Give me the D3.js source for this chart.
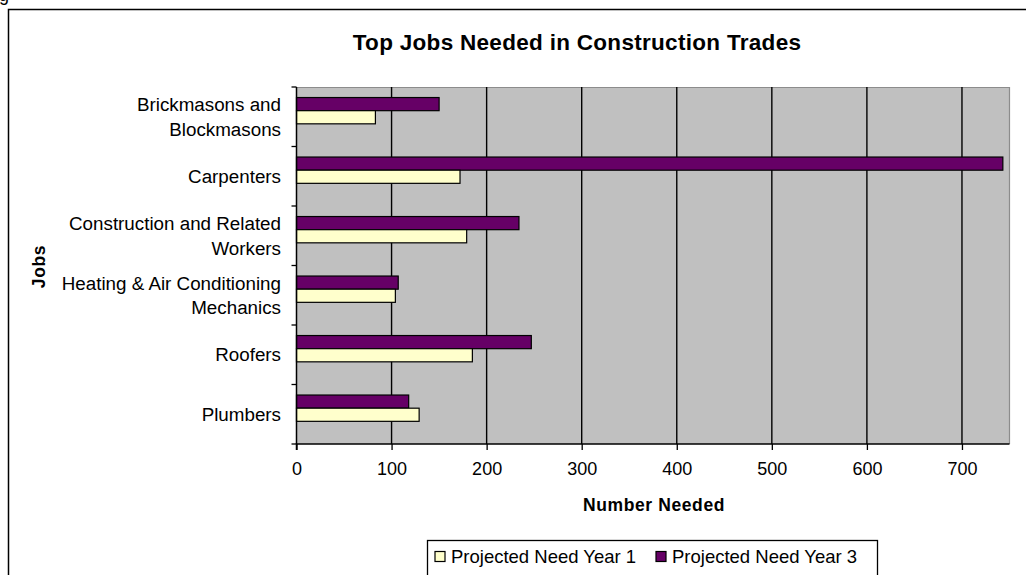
<!DOCTYPE html>
<html>
<head>
<meta charset="utf-8">
<script src="https://cdn.jsdelivr.net/npm/d3@7"></script>
<style>
  html, body { margin: 0; padding: 0; background: #fff; }
  svg { display: block; font-family: Arial, "Liberation Sans", sans-serif; }
</style>
</head>
<body>
<svg id="chart" width="1026" height="575"></svg>
<script>
// Job categories, top to bottom
const categories = [
  ["Brickmasons and", "Blockmasons"],
  ["Carpenters"],
  ["Construction and Related", "Workers"],
  ["Heating & Air Conditioning", "Mechanics"],
  ["Roofers"],
  ["Plumbers"]
];
const seriesNames = ["Projected Need Year 3", "Projected Need Year 1"];
const year3 = [150, 743, 234, 107, 247, 118];
const year1 = [83, 172, 179, 104, 185, 129];
const xTicks = [0, 100, 200, 300, 400, 500, 600, 700];
const legendOrder = ["Projected Need Year 1", "Projected Need Year 3"];

const colors = { "Projected Need Year 3": "#660066", "Projected Need Year 1": "#FFFFCC" };

const svg = d3.select("#chart");

// outer chart frame (continues past the right and bottom edges)
svg.append("path")
  .attr("d", "M8.5,1100 L8.5,9.5 L1100,9.5")
  .attr("fill", "none").attr("stroke", "#000").attr("stroke-width", 1.5);

// clipped caption above the frame
svg.append("text").attr("x", -1).attr("y", 0.5)
  .attr("font-size", 18).attr("fill", "#000").text("g");

const plot = { left: 296.5, right: 1009.5, top: 87, bottom: 444 };

const x = d3.scaleLinear().domain([0, 750]).range([plot.left, plot.right]);
const y = d3.scaleBand().domain(d3.range(categories.length))
  .range([plot.top, plot.bottom]).paddingInner(0).paddingOuter(0);
const bw = y.bandwidth();
const ySub = d3.scaleBand().domain(seriesNames)
  .range([bw * 0.177, bw * 0.177 + bw * 0.442]).padding(0);

// plot area background
svg.append("rect")
  .attr("x", plot.left).attr("y", plot.top)
  .attr("width", plot.right - plot.left).attr("height", plot.bottom - plot.top)
  .attr("fill", "#C0C0C0");
svg.append("path")
  .attr("d", `M${plot.left},${plot.top + 0.5} L${plot.right},${plot.top + 0.5} L${plot.right},${plot.bottom}`)
  .attr("fill", "none").attr("stroke", "#8c8c8c").attr("stroke-width", 1.2);

// vertical gridlines
svg.append("g").selectAll("line")
  .data(xTicks.filter(t => t > 0))
  .join("line")
  .attr("x1", d => x(d)).attr("x2", d => x(d))
  .attr("y1", plot.top).attr("y2", plot.bottom)
  .attr("stroke", "#000").attr("stroke-width", 1.4);

// bars
const rows = categories.map((c, i) => ({ i, values: [
  { s: "Projected Need Year 3", v: year3[i] },
  { s: "Projected Need Year 1", v: year1[i] }
]}));
svg.append("g").selectAll("g")
  .data(rows).join("g")
  .attr("transform", d => `translate(0,${y(d.i)})`)
  .selectAll("rect")
  .data(d => d.values).join("rect")
  .attr("x", x(0))
  .attr("y", d => ySub(d.s))
  .attr("width", d => x(d.v) - x(0))
  .attr("height", ySub.bandwidth())
  .attr("fill", d => colors[d.s])
  .attr("stroke", "#000").attr("stroke-width", 1.2);

// x axis
const xAxis = d3.axisBottom(x).tickValues(xTicks).tickSize(6).tickPadding(12)
  .tickFormat(d3.format("d"));
const gx = svg.append("g").attr("transform", `translate(0,${plot.bottom})`).call(xAxis);
gx.select(".domain").attr("stroke", "#000").attr("stroke-width", 1.5)
  .attr("d", `M${plot.left},6V0H${plot.right}`);
gx.selectAll(".tick line").attr("stroke", "#000").attr("stroke-width", 1.3);
gx.selectAll(".tick text").attr("font-size", 18).attr("fill", "#000")
  .attr("font-family", "Arial, 'Liberation Sans', sans-serif");

// y axis: line with ticks at category boundaries
const boundaries = d3.range(categories.length + 1).map(i => plot.top + i * bw);
svg.append("line")
  .attr("x1", plot.left).attr("x2", plot.left)
  .attr("y1", plot.top).attr("y2", plot.bottom)
  .attr("stroke", "#000").attr("stroke-width", 1.5);
svg.append("g").selectAll("line")
  .data(boundaries).join("line")
  .attr("x1", plot.left - 5).attr("x2", plot.left)
  .attr("y1", d => d).attr("y2", d => d)
  .attr("stroke", "#000").attr("stroke-width", 1.3);

// category labels
const lab = svg.append("g").selectAll("text")
  .data(categories).join("text")
  .attr("text-anchor", "end")
  .attr("font-size", 18.8).attr("fill", "#000")
  .attr("x", 281)
  .attr("y", (d, i) => y(i) + bw / 2);
lab.selectAll("tspan")
  .data(d => d.map((t, k) => ({ t, k, n: d.length })))
  .join("tspan")
  .attr("x", 281)
  .attr("dy", (d) => d.k === 0 ? (d.n === 1 ? 6.5 : -5.5) : 24.5)
  .text(d => d.t);

// title
svg.append("text")
  .attr("x", 577).attr("y", 50)
  .attr("text-anchor", "middle")
  .attr("font-size", 22.5).attr("font-weight", "bold").attr("letter-spacing", 0.3)
  .text("Top Jobs Needed in Construction Trades");

// axis titles
svg.append("text")
  .attr("x", 654).attr("y", 511)
  .attr("text-anchor", "middle")
  .attr("font-size", 17.5).attr("font-weight", "bold").attr("letter-spacing", 0.6)
  .text("Number Needed");
svg.append("text")
  .attr("transform", "translate(45,266.5) rotate(-90)")
  .attr("text-anchor", "middle")
  .attr("font-size", 17.5).attr("font-weight", "bold").attr("letter-spacing", 0.6)
  .text("Jobs");

// legend
const lg = svg.append("g");
lg.append("rect")
  .attr("x", 427.5).attr("y", 540.5).attr("width", 450).attr("height", 40)
  .attr("fill", "#fff").attr("stroke", "#000").attr("stroke-width", 1.3);
const legendX = [435, 656];
const li = lg.selectAll("g.item").data(legendOrder).join("g")
  .attr("transform", (d, i) => `translate(${legendX[i]},551.5)`);
li.append("rect").attr("width", 10).attr("height", 10)
  .attr("fill", d => colors[d]).attr("stroke", "#000").attr("stroke-width", 1.2);
li.append("text").attr("x", 16).attr("y", 11)
  .attr("font-size", 18.5).attr("fill", "#000")
  .text(d => d);
</script>
</body>
</html>
